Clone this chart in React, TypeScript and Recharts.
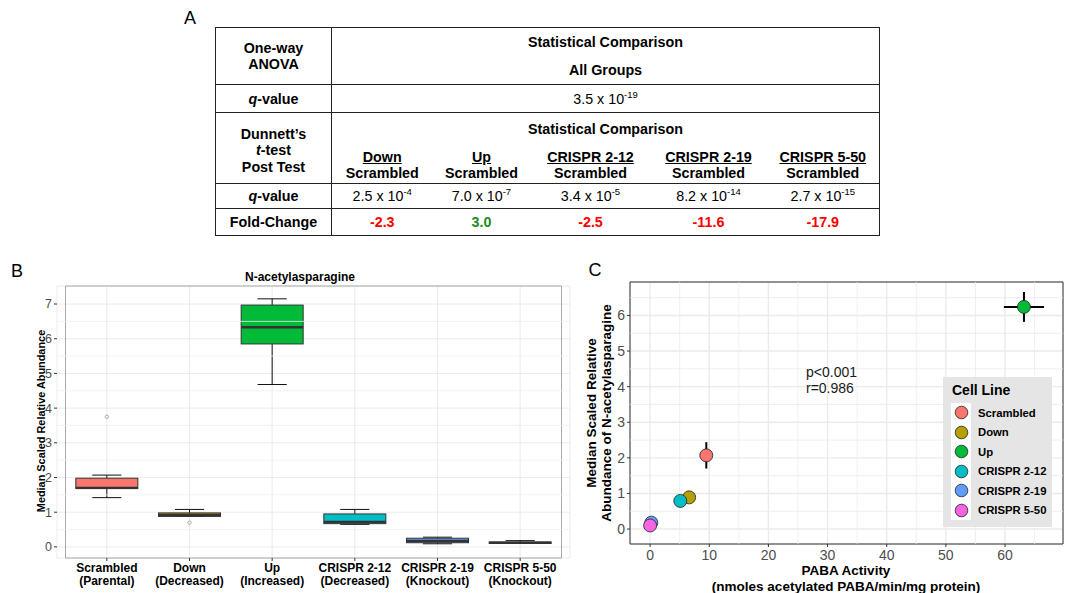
import React from "react";
import {
  ComposedChart,
  Bar,
  XAxis,
  YAxis,
  CartesianGrid,
  ReferenceLine,
  ReferenceArea,
  ScatterChart,
  Scatter,
  ErrorBar,
  Legend,
} from "recharts";

const font = "'Liberation Sans', Arial, Helvetica, sans-serif";

// ---- panel A: statistics table ----
const comparisons = ["Down", "Up", "CRISPR 2-12", "CRISPR 2-19", "CRISPR 5-50"];
const anovaMant = "3.5";
const anovaExp = "-19";
const dunnettMant = ["2.5", "7.0", "3.4", "8.2", "2.7"];
const dunnettExp = ["-4", "-7", "-5", "-14", "-15"];
const foldChanges = ["-2.3", "3.0", "-2.5", "-11.6", "-17.9"];
const foldColors = ["#FF0000", "#1E8B1E", "#FF0000", "#FF0000", "#FF0000"];

// ---- panel B: boxplot ----
const boxCategories = ["Scrambled", "Down", "Up", "CRISPR 2-12", "CRISPR 2-19", "CRISPR 5-50"];
const boxSubLabels = ["(Parental)", "(Decreased)", "(Increased)", "(Decreased)", "(Knockout)", "(Knockout)"];
const whiskerLow = [1.42, 0.88, 4.68, 0.65, 0.09, 0.1];
const q1s = [1.68, 0.88, 5.85, 0.67, 0.12, 0.1];
const medians = [1.7, 0.92, 6.33, 0.72, 0.17, 0.12];
const q3s = [1.98, 0.98, 6.97, 0.95, 0.25, 0.14];
const whiskerHigh = [2.07, 1.08, 7.15, 1.08, 0.28, 0.18];
const outliers: (number | null)[] = [3.75, 0.7, null, null, null, null];
const lineColors = ["#F8766D", "#B79F00", "#00BA38", "#00BFC4", "#619CFF", "#F564E3"];
const bDomain = [-0.32, 7.52];
const bTicks = [0, 1, 2, 3, 4, 5, 6, 7];
const bMinor = [0.5, 1.5, 2.5, 3.5, 4.5, 5.5, 6.5];

// ---- panel C: scatter ----
const cellLines = ["Scrambled", "Down", "Up", "CRISPR 2-12", "CRISPR 2-19", "CRISPR 5-50"];
const pabaActivity = [9.5, 6.6, 63.2, 5.1, 0.2, 0.0];
const pabaErr = [0.2, 0.15, 3.4, 0.1, 0.05, 0.05];
const medianAbundance = [2.07, 0.89, 6.24, 0.79, 0.18, 0.1];
const abundanceErr = [0.37, 0.08, 0.42, 0.1, 0.04, 0.08];
const cXDomain = [-3.4, 69.8];
const cXTicks = [0, 10, 20, 30, 40, 50, 60];
const cXMinor = [5, 15, 25, 35, 45, 55, 65];
const cYDomain = [-0.42, 6.94];
const cYTicks = [0, 1, 2, 3, 4, 5, 6];
const cYMinor = [0.5, 1.5, 2.5, 3.5, 4.5, 5.5, 6.5];

const boxRows = boxCategories.map((name, i) => ({
  name,
  low: whiskerLow[i],
  q1: q1s[i],
  med: medians[i],
  q3: q3s[i],
  high: whiskerHigh[i],
  outlier: outliers[i],
  fill: lineColors[i],
}));

const scatterSeries = cellLines.map((name, i) => ({
  name,
  color: lineColors[i],
  points: [{ x: pabaActivity[i], y: medianAbundance[i], ex: pabaErr[i], ey: abundanceErr[i] }],
}));
const allPoints = scatterSeries.map((s) => s.points[0]);

function Pos({ x, y, size, bold, children, color = "#000" }: any) {
  return (
    <div
      style={{
        position: "absolute",
        left: x,
        top: y,
        transform: "translate(-50%, -50%)",
        fontSize: size,
        fontWeight: bold ? 700 : 400,
        whiteSpace: "nowrap",
        lineHeight: 1.15,
        color,
        textAlign: "center",
      }}
    >
      {children}
    </div>
  );
}

function Sup({ children }: any) {
  return (
    <span style={{ fontSize: 9.5, position: "relative", top: -6, verticalAlign: "baseline" }}>{children}</span>
  );
}

const cell: React.CSSProperties = {
  border: "1px solid #222",
  padding: 0,
  textAlign: "center",
  verticalAlign: "middle",
};
const subCell = (i: number): React.CSSProperties => ({
  ...cell,
  borderLeft: "none",
  borderRight: i === comparisons.length - 1 ? "1px solid #222" : "none",
});

function StatsTable() {
  return (
    <table
      style={{
        position: "absolute",
        left: 215,
        top: 27,
        width: 664,
        borderCollapse: "collapse",
        tableLayout: "fixed",
        fontSize: 14.3,
        fontFamily: font,
      }}
    >
      <colgroup>
        <col style={{ width: 116 }} />
        <col style={{ width: 101 }} />
        <col style={{ width: 98 }} />
        <col style={{ width: 120 }} />
        <col style={{ width: 116 }} />
        <col style={{ width: 113 }} />
      </colgroup>
      <tbody>
        <tr style={{ height: 57 }}>
          <td style={{ ...cell, fontWeight: 700, lineHeight: "16px" }}>
            One-way
            <br />
            ANOVA
          </td>
          <td colSpan={5} style={{ ...cell, fontWeight: 700, lineHeight: "28px" }}>
            Statistical Comparison
            <br />
            All Groups
          </td>
        </tr>
        <tr style={{ height: 28 }}>
          <td style={{ ...cell, fontWeight: 700 }}>
            <i>q</i>-value
          </td>
          <td colSpan={5} style={cell}>
            {anovaMant} x 10<Sup>{anovaExp}</Sup>
          </td>
        </tr>
        <tr style={{ height: 32 }}>
          <td rowSpan={2} style={{ ...cell, fontWeight: 700, lineHeight: "16.5px", paddingTop: 5 }}>
            Dunnett’s
            <br />
            <i>t</i>-test
            <br />
            Post Test
          </td>
          <td colSpan={5} style={{ ...cell, borderBottom: "none", fontWeight: 700, lineHeight: "32px" }}>
            Statistical Comparison
          </td>
        </tr>
        <tr style={{ height: 38 }}>
          {comparisons.map((c, i) => (
            <td key={c} style={{ ...subCell(i), borderTop: "none", fontWeight: 700, lineHeight: "16px", paddingTop: 2 }}>
              <u>{c}</u>
              <br />
              Scrambled
            </td>
          ))}
        </tr>
        <tr style={{ height: 25 }}>
          <td style={{ ...cell, fontWeight: 700 }}>
            <i>q</i>-value
          </td>
          {dunnettMant.map((m, i) => (
            <td key={i} style={subCell(i)}>
              {m} x 10<Sup>{dunnettExp[i]}</Sup>
            </td>
          ))}
        </tr>
        <tr style={{ height: 27 }}>
          <td style={{ ...cell, fontWeight: 700 }}>Fold-Change</td>
          {foldChanges.map((f, i) => (
            <td key={i} style={{ ...subCell(i), fontWeight: 700, color: foldColors[i] }}>
              {f}
            </td>
          ))}
        </tr>
      </tbody>
    </table>
  );
}

function BoxShape(props: any) {
  const { x, y, width, height, payload } = props;
  if (!payload) return null;
  const top = Math.min(y, y + height);
  const span = Math.abs(height);
  const range = payload.high - payload.low;
  const py = (v: number) => top + ((payload.high - v) / range) * span;
  const cx = x + width / 2;
  const cap = width * 0.235;
  return (
    <g>
      <line x1={cx} x2={cx} y1={py(payload.high)} y2={py(payload.q3)} stroke="#111" strokeWidth={1} />
      <line x1={cx} x2={cx} y1={py(payload.q1)} y2={py(payload.low)} stroke="#111" strokeWidth={1} />
      <line x1={cx - cap} x2={cx + cap} y1={py(payload.high)} y2={py(payload.high)} stroke="#111" strokeWidth={1} />
      <line x1={cx - cap} x2={cx + cap} y1={py(payload.low)} y2={py(payload.low)} stroke="#111" strokeWidth={1} />
      <rect
        x={x}
        y={py(payload.q3)}
        width={width}
        height={Math.max(py(payload.q1) - py(payload.q3), 0.5)}
        fill={payload.fill}
        stroke="#333"
        strokeWidth={1}
      />
      <line x1={x} x2={x + width} y1={py(payload.med)} y2={py(payload.med)} stroke="#333" strokeWidth={2.4} />
      {payload.outlier != null && (
        <circle cx={cx} cy={py(payload.outlier)} r={1.7} fill="none" stroke="#999" strokeWidth={0.8} />
      )}
    </g>
  );
}

function BoxTick(props: any) {
  const { x, y, payload } = props;
  const i = boxCategories.indexOf(payload.value);
  return (
    <text x={x} y={y} textAnchor="middle" fontFamily={font} fontSize={12} fontWeight={700} fill="#000">
      <tspan x={x} dy={9}>
        {payload.value}
      </tspan>
      <tspan x={x} dy={12.7}>
        {boxSubLabels[i]}
      </tspan>
    </text>
  );
}

function BoxPanel() {
  return (
    <div style={{ position: "absolute", left: 0, top: 260, width: 580, height: 333 }}>
      <ComposedChart
        width={580}
        height={333}
        data={boxRows}
        margin={{ top: 26, right: 10, bottom: 0, left: 0 }}
        barCategoryGap="12.5%"
      >
        <CartesianGrid stroke="#EBEBEB" strokeWidth={1} />
        {bMinor.map((v) => (
          <ReferenceLine key={v} y={v} stroke="#EFEFEF" strokeWidth={0.8} />
        ))}
        <ReferenceArea y1={bDomain[0]} y2={bDomain[1]} fill="none" fillOpacity={0} stroke="#A8A8A8" strokeWidth={1} ifOverflow="visible" />
        <XAxis
          dataKey="name"
          height={35}
          padding={{ left: 8.5, right: 8.5 }}
          interval={0}
          tick={<BoxTick />}
          tickSize={3}
          tickLine={{ stroke: "#333" }}
          axisLine={false}
        />
        <YAxis
          type="number"
          domain={bDomain}
          ticks={bTicks}
          allowDataOverflow
          width={57}
          tickSize={3}
          tickMargin={2}
          tickLine={{ stroke: "#333" }}
          axisLine={false}
          tick={{ fontSize: 12.5, fill: "#4D4D4D", fontFamily: font }}
        />
        <Bar dataKey={(d: any) => [d.low, d.high]} shape={(p: any) => <BoxShape {...p} />} isAnimationActive={false} />
      </ComposedChart>
    </div>
  );
}

function Dot(props: any) {
  const { cx, cy, fill } = props;
  if (cx == null || cy == null) return null;
  return <circle cx={cx} cy={cy} r={6.5} fill={fill} stroke="#222" strokeWidth={0.8} />;
}

function CellLegend(props: any) {
  const items = [...(props.payload || [])]
    .filter((e: any) => cellLines.includes(e.value))
    .sort((a: any, b: any) => cellLines.indexOf(a.value) - cellLines.indexOf(b.value));
  return (
    <div
      style={{
        background: "#E5E5E5",
        width: 109,
        height: 150,
        boxSizing: "border-box",
        padding: "5px 0 0 8px",
        fontFamily: font,
        color: "#000",
      }}
    >
      <div style={{ fontWeight: 700, fontSize: 14, lineHeight: "16px", paddingLeft: 1 }}>Cell Line</div>
      <div style={{ marginTop: 5 }}>
        {items.map((e: any) => {
          const color = lineColors[cellLines.indexOf(e.value)] || e.color;
          return (
            <div key={e.value} style={{ display: "flex", alignItems: "center", height: 19.5 }}>
              <div
                style={{
                  width: 20,
                  height: 19.5,
                  background: "#fff",
                  display: "flex",
                  alignItems: "center",
                  justifyContent: "center",
                }}
              >
                <svg width={15} height={15}>
                  <circle cx={7.5} cy={7.5} r={6.3} fill={color} stroke="#222" strokeWidth={0.8} />
                </svg>
              </div>
              <span style={{ marginLeft: 7, fontSize: 11.3, fontWeight: 700 }}>{e.value}</span>
            </div>
          );
        })}
      </div>
    </div>
  );
}

function ScatterPanel() {
  return (
    <div style={{ position: "absolute", left: 580, top: 260, width: 485, height: 333 }}>
      <ScatterChart width={485} height={333} margin={{ top: 22, right: 2, bottom: 0, left: 0 }}>
        <CartesianGrid stroke="#EBEBEB" strokeWidth={1.4} />
        {cXMinor.map((v) => (
          <ReferenceLine key={"x" + v} x={v} stroke="#EBEBEB" strokeWidth={0.8} />
        ))}
        {cYMinor.map((v) => (
          <ReferenceLine key={"y" + v} y={v} stroke="#EBEBEB" strokeWidth={0.8} />
        ))}
        <ReferenceArea
          x1={cXDomain[0]}
          x2={cXDomain[1]}
          y1={cYDomain[0]}
          y2={cYDomain[1]}
          fill="none"
          fillOpacity={0}
          stroke="#333"
          strokeWidth={1}
          ifOverflow="visible"
        />
        <XAxis
          type="number"
          dataKey="x"
          domain={cXDomain}
          ticks={cXTicks}
          allowDataOverflow
          height={49}
          tickSize={3}
          tickMargin={3}
          tickLine={{ stroke: "#333" }}
          axisLine={false}
          tick={{ fontSize: 14, fill: "#4D4D4D", fontFamily: font }}
        />
        <YAxis
          type="number"
          dataKey="y"
          domain={cYDomain}
          ticks={cYTicks}
          allowDataOverflow
          width={50}
          tickSize={3}
          tickMargin={2}
          tickLine={{ stroke: "#333" }}
          axisLine={false}
          tick={{ fontSize: 14, fill: "#4D4D4D", fontFamily: font }}
        />
        <Legend
          layout="horizontal"
          verticalAlign="middle"
          align="center"
          content={<CellLegend />}
          wrapperStyle={{ left: 363, top: 117, width: 109, height: 150 }}
        />
        {scatterSeries.map((s) => (
          <Scatter key={s.name} name={s.name} data={s.points} fill={s.color} shape={(p: any) => <Dot {...p} />} isAnimationActive={false}>
            <ErrorBar dataKey="ey" direction="y" width={0} stroke="#000" strokeWidth={2} />
          </Scatter>
        ))}
        {/* horizontal error bars sit on top of the points */}
        <Scatter name="xerr" legendType="none" data={allPoints} fill="none" shape={() => <g />} isAnimationActive={false}>
          <ErrorBar dataKey="ex" direction="x" width={0} stroke="#000" strokeWidth={2} />
        </Scatter>
      </ScatterChart>
    </div>
  );
}

export default function App() {
  return (
    <div
      style={{
        position: "absolute",
        left: 0,
        top: 0,
        width: 1065,
        height: 593,
        background: "#fff",
        fontFamily: font,
        color: "#000",
        overflow: "hidden",
      }}
    >
      <Pos x={190} y={18} size={18}>A</Pos>
      <Pos x={17} y={271} size={18}>B</Pos>
      <Pos x={595} y={270} size={18}>C</Pos>
      <StatsTable />
      <BoxPanel />
      <ScatterPanel />

      {/* panel B titles */}
      <Pos x={300} y={278} size={12} bold>N-acetylasparagine</Pos>
      <div
        style={{
          position: "absolute",
          left: 41,
          top: 421,
          transform: "translate(-50%, -50%) rotate(-90deg)",
          fontSize: 10.9,
          fontWeight: 700,
          whiteSpace: "nowrap",
        }}
      >
        Median Scaled Relative Abundance
      </div>

      {/* panel C titles */}
      <div
        style={{
          position: "absolute",
          left: 599,
          top: 413,
          transform: "translate(-50%, -50%) rotate(-90deg)",
          fontSize: 13.5,
          fontWeight: 700,
          whiteSpace: "nowrap",
          textAlign: "center",
          lineHeight: "15px",
        }}
      >
        Median Scaled Relative
        <br />
        Abundance of N-acetylasparagine
      </div>
      <div
        style={{
          position: "absolute",
          left: 846,
          top: 578,
          transform: "translate(-50%, -50%)",
          fontSize: 13.5,
          fontWeight: 700,
          whiteSpace: "nowrap",
          textAlign: "center",
          lineHeight: "15.5px",
        }}
      >
        PABA Activity
        <br />
        (nmoles acetylated PABA/min/mg protein)
      </div>
      <div
        style={{
          position: "absolute",
          left: 806,
          top: 364,
          fontSize: 14,
          lineHeight: "16px",
          color: "#1A1A1A",
          whiteSpace: "nowrap",
        }}
      >
        p&lt;0.001
        <br />
        r=0.986
      </div>
    </div>
  );
}
